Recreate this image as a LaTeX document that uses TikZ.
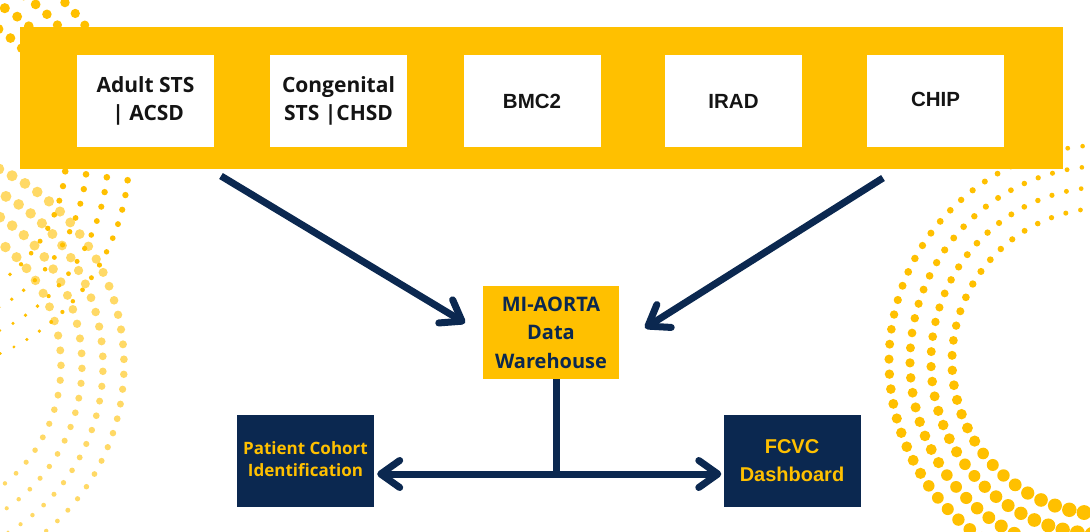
\documentclass[tikz,border=0pt]{standalone}
\usepackage{fontspec}
\setmainfont{Open Sans}
\newfontfamily\libsans{Liberation Sans}
\usetikzlibrary{arrows.meta,calc}
\definecolor{maize}{HTML}{FFC000}
\definecolor{navy}{HTML}{0B2850}
\definecolor{ink}{HTML}{141414}
% #1 cx, #2 cy, #3 a0, #4 a1, #5 ref angle, #6 base radius, #7 lin, #8 quad, #9 style
\newcommand{\dotring}[9]{%
  \foreach \dR in {153,174,195,216}{%
    \pgfmathsetmacro{\dstep}{15/\dR*57.2958}%
    \pgfmathsetmacro{\dnext}{#3+\dstep}%
    \foreach \da in {#3,\dnext,...,#4}{%
      \pgfmathsetmacro{\du}{\da-(#5)}%
      \pgfmathsetmacro{\drad}{max(#6+(#7)*\du+(#8)*\du*\du,0.6)}%
      \fill[#9] ({#1+\dR*cos(\da)},{#2-\dR*sin(\da)}) circle[radius=\drad];
    }}}
\begin{document}
\begin{tikzpicture}[x=1pt,y=-1pt,
  srcbox/.style={fill=white, minimum width=137, minimum height=92, inner sep=0, align=center, text=ink},
  srcfont/.style={font=\fontsize{21}{28}\selectfont\bfseries},
  srcfontb/.style={font=\libsans\fontsize{20.5}{26}\selectfont\bfseries},
  whbox/.style={fill=maize, minimum width=136, minimum height=93, inner sep=0, align=center, text=navy,
    font=\fontsize{20}{28.5}\selectfont\bfseries},
  outbox/.style={fill=navy, minimum width=137, minimum height=92, inner sep=0, align=center, text=maize},
  conn/.style={draw=navy, line width=7},
  tip/.tip={Straight Barb[length=19pt, width=27pt, round]}]
\useasboundingbox (0,0) rectangle (1090,532);
\clip (0,0) rectangle (1090,532);
% decorative dot arcs
\dotring{-92}{365}{-90}{100}{-7}{3.6}{0.03}{-0.00003}{maize, opacity=0.6}
\dotring{-87}{156}{-90}{100}{-7}{3.3}{0.029}{-0.00003}{maize}
\dotring{1105}{361}{88}{272}{180}{4.6}{0.031}{0.00004}{maize}
% banner and source boxes
\node[fill=maize, minimum width=1043, minimum height=142, inner sep=0, anchor=north west] (banner) at (20,27) {};
\node[srcbox, srcfont] (acsd) at (145.5,101) {Adult STS\\\ | ACSD};
\node[srcbox, srcfont] (chsd) at (338.5,101) {Congenital\\STS |CHSD};
\node[srcbox, srcfontb] (bmc) at (532,101) {BMC2};
\node[srcbox, srcfontb, text depth=0pt] (irad) at (733.5,101) {IRAD};
\node[srcbox, srcfontb, text depth=0pt] (chip) at (935.5,101) {\raisebox{3pt}{CHIP}};
% warehouse
\node[whbox] (mi) at (551,332.5) {MI-AORTA\\Data\\Warehouse};
% outputs
\node[outbox, font=\fontsize{17}{23}\selectfont\bfseries] (pc) at (305.5,461) {\raisebox{4pt}{\begin{tabular}{@{}c@{}}Patient Cohort\\[-1pt]Identification\end{tabular}}};
\node[outbox, font=\libsans\fontsize{20}{28}\selectfont\bfseries] (fc) at (792,461) {FCVC\\Dashboard};
% connectors
\coordinate (la) at (221,176);
\coordinate (lt) at (465,323);
\coordinate (ra) at (883,178);
\coordinate (rt) at (645,328);
\coordinate (jn) at (556,474);
\draw[conn, -tip] (la) -- (lt);
\draw[conn, -tip] (ra) -- (rt);
\draw[conn] (jn |- mi.south) -- (jn);
\draw[conn, tip-tip] ($(pc.east |- jn)+(3,0)$) -- ($(fc.west |- jn)+(-2,0)$);
\end{tikzpicture}
\end{document}
